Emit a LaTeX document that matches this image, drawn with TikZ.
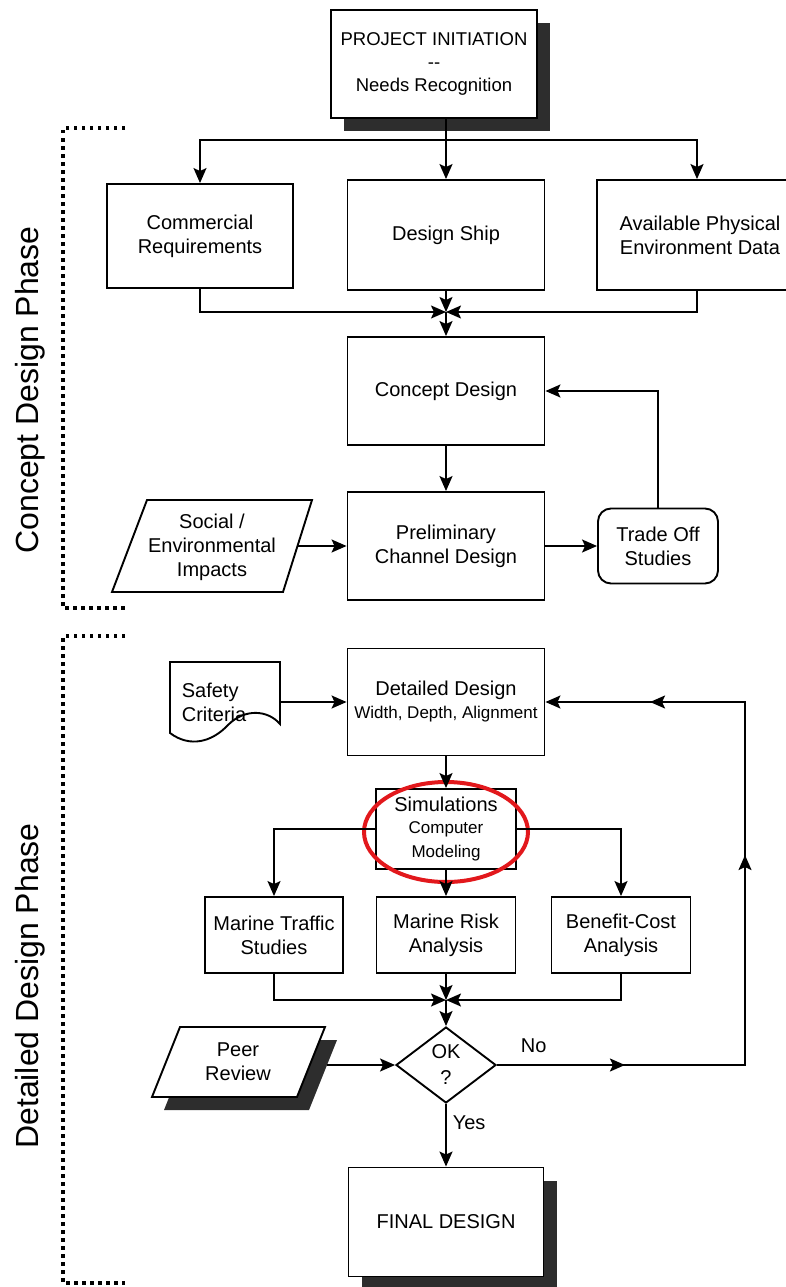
\documentclass[tikz,border=0pt]{standalone}
\usepackage{fontspec}
\setmainfont{Liberation Sans}
\usetikzlibrary{arrows.meta,shapes.geometric,shadows,decorations.markings,calc}
\definecolor{shadowgray}{RGB}{45,45,45}
\definecolor{ringred}{RGB}{226,24,28}
\newcommand{\smalltext}{\fontsize{17}{21}\selectfont}
\begin{document}
\begin{tikzpicture}[x=1pt,y=-1pt,
  line width=1.7pt,
  >={Stealth[length=15pt,width=13pt,inset=3pt]},
  base/.style={font=\fontsize{20}{24}\selectfont, align=center, inner sep=0pt},
  box/.style={base, draw, fill=white, line width=1.9pt},
  shadowed/.style={box, drop shadow={shadow xshift=13pt, shadow yshift=-13pt, fill=shadowgray, opacity=1}},
  phaseline/.style={line width=3.5pt, dash pattern=on 3.5pt off 4.5pt},
  phasetext/.style={font=\fontsize{32}{38}\selectfont, rotate=90},
  midmarks/.style={decoration={markings,
      mark=at position 128pt with {\arrow{>}},
      mark=at position 458pt with {\arrow{>}},
      mark=at position 706pt with {\arrow{>}}},
    postaction={decorate}},
]
\useasboundingbox (0,0) rectangle (785,1287);

% phase brackets
\draw[phaseline] (125,128) -- (63,128) -- (63,608) -- (125,608);
\draw[phaseline] (125,636) -- (63,636) -- (63,1283) -- (125,1283);
\node[phasetext] (cphase) at (30,390) {Concept Design Phase};
\node[phasetext] (dphase) at (30,986) {Detailed Design Phase};

% concept design phase
\node[shadowed, minimum width=206pt, minimum height=108pt,
      font=\fontsize{18.5}{23}\selectfont] (pi) at (434,64)
  {PROJECT INITIATION\\{-}{-}\\Needs Recognition};
\node[box, minimum width=186pt, minimum height=104pt] (cr) at (200,236) {Commercial\\Requirements};
\node[box, minimum width=197pt, minimum height=110pt] (ds) at (446,235) {Design Ship};
\node[box, minimum width=206pt, minimum height=110pt] (ap) at (700,235) {Available Physical\\Environment Data};
\node[box, minimum width=197pt, minimum height=108pt] (cd) at (446,391) {Concept Design};
\node[box, minimum width=197pt, minimum height=108pt] (pc) at (446,546) {Preliminary\\Channel Design};
\node[box, rounded corners=13pt, minimum width=120pt, minimum height=75pt] (to) at (658,546) {Trade Off\\Studies};

% social / environmental input
\draw[line width=1.9pt, fill=white] (147,500) -- (312,500) -- (283,592) -- (112,592) -- cycle;
\node[base] (se) at (212,547) {Social /\\Environmental\\Impacts};
\coordinate (seR) at (298,546);

\coordinate (split) at (446,140);
\coordinate (m1) at (446,312);
\draw (pi.south -| ds.north) -- (split);
\draw[->] (split) -- (ds.north);
\draw[->] (split) -| (cr.north);
\draw[->] (split) -| (ap.north -| 697,0);
\draw[->] (cr.south) |- (m1);
\draw[->] (ap.south -| 697,0) |- (m1);
\draw[->] (ds.south) -- (m1);
\draw[->] (m1) -- (cd.north);
\draw[->] (cd.south) -- (pc.north);
\draw[->] (seR) -- (pc.west);
\draw[->] (pc.east) -- (to.west);
\draw[->] (to.north) |- (cd.east);

% detailed design phase
\node[box, minimum width=197pt, minimum height=107pt] (dd) at (446,702)
  {Detailed Design\\[-1pt]\smalltext Width, Depth, Alignment};
\draw[line width=1.9pt, fill=white] (170,662) -- (280,662) -- (280,724)
  .. controls (268,710) and (245,708) .. (228,725)
  .. controls (212,742) and (190,748) .. (170,733) -- cycle;
\node[base, align=left, anchor=west] (sc) at (181,702) {Safety\\Criteria};
\coordinate (scR) at (280,702);

\node[box, minimum width=140pt, minimum height=80pt] (sim) at (446,829)
  {Simulations\\[-2pt]\smalltext Computer\\\smalltext Modeling};
\draw[ringred, line width=4pt] (446,832) ellipse [x radius=82pt, y radius=50pt];

\node[box, minimum width=138pt, minimum height=76pt] (mt) at (274,935) {Marine Traffic\\Studies};
\node[box, minimum width=139pt, minimum height=76pt] (mr) at (446,935) {Marine Risk\\Analysis};
\node[box, minimum width=139pt, minimum height=76pt] (bc) at (621,935) {Benefit-Cost\\Analysis};

\node[box, diamond, minimum width=100pt, minimum height=76pt, font=\fontsize{20}{26}\selectfont] (ok) at (446,1065) {OK\\?};

% peer review input with its shadow
\fill[shadowgray] (192,1040) -- (337,1040) -- (309,1110) -- (164,1110) -- cycle;
\draw[line width=1.9pt, fill=white] (180,1027) -- (325,1027) -- (297,1097) -- (152,1097) -- cycle;
\node[base] (pr) at (238,1062) {Peer\\Review};
\coordinate (prR) at (327,1065);

\node[shadowed, minimum width=195pt, minimum height=109pt] (fd) at (446,1222) {FINAL DESIGN};

\node[base, anchor=west] (no) at (520,1046) {No};
\node[base, anchor=west] (yes) at (452,1123) {Yes};

\coordinate (m2) at (446,1000);
\coordinate (loop) at (745,1065);
\draw[->] (dd.south) -- (sim.north);
\draw[->] (scR) -- (dd.west);
\draw[->] (sim.west) -| (mt.north);
\draw[->] (sim.east) -| (bc.north);
\draw[->] (sim.south) -- (mr.north);
\draw[->] (mt.south) |- (m2);
\draw[->] (bc.south) |- (m2);
\draw[->] (mr.south) -- (m2);
\draw[->] (m2) -- (ok.north);
\draw[->] (prR) -- (ok.west);
\draw[->] (ok.south) -- (fd.north);
\draw[->, midmarks] (ok.east) -- (loop) |- (dd.east);
\end{tikzpicture}
\end{document}
